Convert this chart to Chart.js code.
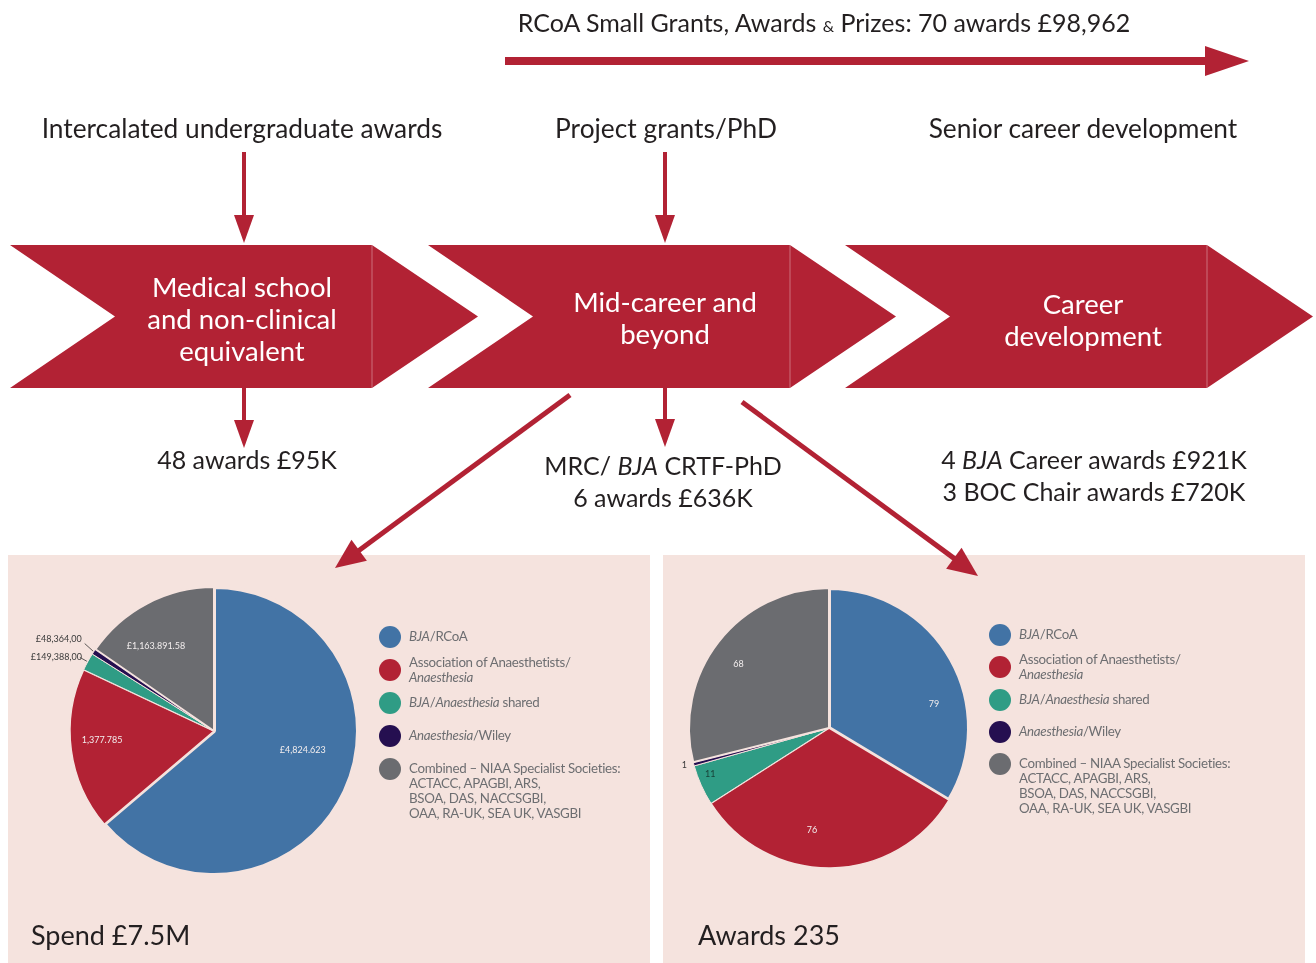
<!DOCTYPE html>
<html><head><meta charset="utf-8">
<script src="https://cdn.jsdelivr.net/npm/chart.js@4/dist/chart.umd.min.js"></script>
<style>
html,body{margin:0;padding:0;background:#fff;}
#root{position:relative;width:1316px;height:963px;overflow:hidden;font-family:Lato,"Open Sans",sans-serif;}
#deco{position:absolute;left:0;top:0;z-index:5;}
.panel{position:absolute;top:555px;height:408px;width:642px;background:#f5e3de;}
.panel canvas{position:absolute;left:0;top:0;}
.lg-dot{position:absolute;width:22px;height:22px;border-radius:50%;}
.lg-txt{position:absolute;font-size:13.3px;line-height:15px;color:#6d6e71;letter-spacing:-0.3px;white-space:nowrap;}
.caption{position:absolute;font-size:27px;color:#231f20;line-height:1;}
</style>
</head><body>
<div id="root">
<div class="panel" id="p1" style="left:8px"><canvas id="c1" width="642" height="408"></canvas></div>
<div class="panel" id="p2" style="left:663px"><canvas id="c2" width="642" height="408"></canvas></div>
<div class="caption" style="left:31px;top:921px">Spend £7.5M</div>
<div class="caption" style="left:698px;top:921px">Awards 235</div>
<svg id="deco" width="1316" height="963" xmlns="http://www.w3.org/2000/svg"></svg>
</div>
<script>
// ---- data ----
const categories = ['BJA/RCoA','Association of Anaesthetists/Anaesthesia','BJA/Anaesthesia shared','Anaesthesia/Wiley','Combined – NIAA Specialist Societies'];
const legendLabels = [
  '<i>BJA</i>/RCoA',
  'Association of Anaesthetists/<br><i>Anaesthesia</i>',
  '<i>BJA</i>/<i>Anaesthesia</i> shared',
  '<i>Anaesthesia</i>/Wiley',
  'Combined – NIAA Specialist Societies:<br>ACTACC, APAGBI, ARS,<br>BSOA, DAS, NACCSGBI,<br>OAA, RA-UK, SEA UK, VASGBI'
];
const spendValues = [4824623, 1377785, 149388, 48364, 1163891.58];
const spendLabels = ['£4,824.623','1,377.785','£149,388,00','£48,364,00','£1,163.891.58'];
const awardValues = [79, 76, 11, 1, 68];
const awardLabels = ['79','76','11','1','68'];
const colors = ['#4273a5','#b22234','#2f9c85','#250f50','#6b6c70'];
const bg = '#f5e3de';

// ---- decorative diagram ----
const svg = document.getElementById('deco');
const NS = 'http://www.w3.org/2000/svg';
const RED = '#b22234';
function el(tag, attrs, parent){ const e=document.createElementNS(NS,tag); for(const k in attrs) e.setAttribute(k,attrs[k]); (parent||svg).appendChild(e); return e; }
function arrow(x1,y1,x2,y2,w,hl,hw){
  const dx=x2-x1, dy=y2-y1, L=Math.hypot(dx,dy), ux=dx/L, uy=dy/L, nx=-uy, ny=ux;
  const bx=x2-ux*hl, by=y2-uy*hl;
  el('line',{x1:x1,y1:y1,x2:bx+ux*2,y2:by+uy*2,stroke:RED,'stroke-width':w});
  el('polygon',{points:`${x2},${y2} ${bx+nx*hw},${by+ny*hw} ${bx-nx*hw},${by-ny*hw}`,fill:RED});
}
function text(x,y,str,size,color,anchor){
  const t=el('text',{x:x,y:y,'font-size':size,fill:color||'#231f20','text-anchor':anchor||'middle','font-family':'Lato, sans-serif'});
  t.innerHTML=str; return t;
}
// top arrow
arrow(505,61,1249,61,8,44,15);
text(824,32,'RCoA Small Grants, Awards <tspan font-size="16">&amp;</tspan> Prizes: 70 awards £98,962',25);
// headings
text(242,138,'Intercalated undergraduate awards',26.3);
text(666,138,'Project grants/PhD',26.3);
text(1083,138,'Senior career development',26.3);
arrow(244,152,244,243,4,28,10);
arrow(665,152,665,243,4,28,10);
// chevrons
[[10],[428],[845]].forEach(([x0])=>{
  const top=245,bot=388,mid=316.5,rx=x0+362;
  el('polygon',{points:`${x0},${top} ${rx},${top} ${x0+468},${mid} ${rx},${bot} ${x0},${bot} ${x0+105},${mid}`,fill:RED});
  el('line',{x1:rx,y1:top,x2:rx,y2:bot,stroke:'rgba(255,255,255,0.35)','stroke-width':1});
});
const CS=27.5;
text(242,297,'Medical school',CS,'#fff');
text(242,329,'and non-clinical',CS,'#fff');
text(242,361,'equivalent',CS,'#fff');
text(665,312,'Mid-career and',CS,'#fff');
text(665,344,'beyond',CS,'#fff');
text(1083,314,'Career',CS,'#fff');
text(1083,346,'development',CS,'#fff');
arrow(244,388,244,448,4,28,10);
arrow(665,388,665,447,4,28,10);
arrow(570,395,335,568,5,30,13);
arrow(742,402,978,576,5,30,13);
const BS=25;
text(247,469,'48 awards £95K',BS);
text(663,475,'MRC/ <tspan font-style="italic">BJA</tspan> CRTF-PhD',BS);
text(663,507,'6 awards £636K',BS);
text(1094,469,'4 <tspan font-style="italic">BJA</tspan> Career awards £921K',BS);
text(1094,501,'3 BOC Chair awards £720K',BS);

// ---- legends ----
function legend(panelId, dotX, txtX, cy0, step){
  const p=document.getElementById(panelId);
  legendLabels.forEach((lab,i)=>{
    const cy=cy0+step*i;
    const d=document.createElement('div'); d.className='lg-dot';
    d.style.left=(dotX-11)+'px'; d.style.top=(cy-11)+'px'; d.style.background=colors[i]; p.appendChild(d);
    const t=document.createElement('div'); t.className='lg-txt'; t.innerHTML=lab;
    const shift = (i===1)?-7:0;
    t.style.left=txtX+'px'; t.style.top=(cy-8+shift)+'px'; p.appendChild(t);
  });
}
legend('p1',382,401,82,33);
legend('p2',337,356,80,32.3);

// ---- pie label plugin ----
const pieLabels={
  id:'pieLabels',
  afterDatasetsDraw(chart,args,opts){
    const ctx=chart.ctx, meta=chart.getDatasetMeta(0);
    ctx.save();
    ctx.font='9px Lato, sans-serif';
    meta.data.forEach((arc,i)=>{
      const p=arc.getProps(['startAngle','endAngle','outerRadius','x','y'],true);
      const spec=opts.place[i], txt=opts.texts[i];
      const f=spec.f==null?0.5:spec.f;
      const m=p.startAngle+(p.endAngle-p.startAngle)*f, cs=Math.cos(m), sn=Math.sin(m);
      if(spec.out){
        const r0=p.outerRadius+1, r1=p.outerRadius+spec.lead;
        const ex=p.x+cs*r0, ey=p.y+sn*r0, lx=p.x+cs*r1, ly=p.y+sn*r1+(spec.dy||0);
        if(spec.line){
          ctx.strokeStyle='#333'; ctx.lineWidth=0.8;
          ctx.beginPath(); ctx.moveTo(ex,ey); ctx.lineTo(lx,ly); ctx.stroke();
        }
        ctx.fillStyle='#3a3a3a'; ctx.textAlign='right'; ctx.textBaseline='middle';
        ctx.fillText(txt,lx-3+(spec.tx||0),ly-(spec.ty||0));
      } else {
        const r=p.outerRadius*spec.r;
        ctx.fillStyle=spec.color||'#f3eeee'; ctx.textAlign='center'; ctx.textBaseline='middle';
        ctx.fillText(txt,p.x+cs*r,p.y+sn*r);
      }
    });
    ctx.restore();
  }
};

function makePie(id, values, texts, place, pad){
  return new Chart(document.getElementById(id),{
    type:'pie',
    data:{labels:categories,datasets:[{data:values,backgroundColor:colors,borderColor:bg,borderWidth:[4,1.5,1,1,2],hoverOffset:0}]},
    options:{responsive:false,animation:false,layout:{padding:pad},
      plugins:{legend:{display:false},tooltip:{enabled:false},pieLabels:{texts:texts,place:place}}},
    plugins:[pieLabels]
  });
}
makePie('c1',spendValues,spendLabels,
  [{r:0.63,f:0.444},{r:0.78,f:0.546},{out:true,lead:9,line:true,ty:0,tx:5},{out:true,lead:11,line:true,dy:-2,ty:4},{r:0.715,f:0.38}],
  {left:60,top:30,right:290,bottom:86});
makePie('c2',awardValues,awardLabels,
  [{r:0.77,f:0.637},{r:0.74,f:0.588},{r:0.91,f:0.68,color:'#173f36'},{out:true,lead:4,line:false},{r:0.79,f:0.473}],
  {left:24,top:31,right:334,bottom:93});
</script>
</body></html>
